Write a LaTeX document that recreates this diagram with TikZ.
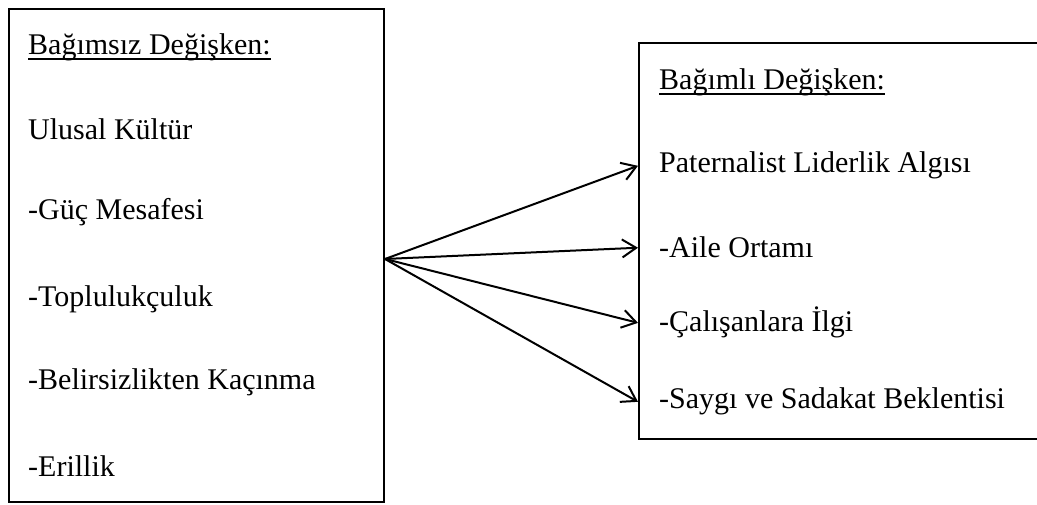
\documentclass[tikz,border=0pt]{standalone}
\usepackage{fontspec}
\setmainfont{Liberation Serif}
\usetikzlibrary{arrows.meta,positioning}
\newcommand{\varhead}[1]{\setbox0\hbox{#1}\rlap{\rule[-5pt]{\wd0}{1.6pt}}\box0}

\begin{document}
\begin{tikzpicture}[x=1pt,y=1pt,>={Straight Barb[length=14pt,width=18pt]},
 frame/.style={draw,line width=2pt,anchor=south west,inner sep=0pt},
 item/.style={anchor=base west,inner sep=0pt,font=\fontsize{30}{36}\selectfont},
 link/.style={->,line width=2pt}]
\useasboundingbox (0,0) rectangle (1037,505);
% bagimsiz degisken
\node[frame,minimum width=375pt,minimum height=493pt] (ind) at (8,2) {};
\node[item] (indhead) at (28,450) {\varhead{Bağımsız Değişken:}};
\node[item] (ulusal) at (28,365) {Ulusal Kültür};
\node[item] (guc) at (28,285) {-Güç Mesafesi};
\node[item] (toplu) at (28,198) {-Toplulukçuluk};
\node[item] (belir) at (28,115) {-Belirsizlikten Kaçınma};
\node[item] (eril) at (28,28) {-Erillik};
\coordinate (src) at (ind.east |- 0,246);
% bagimli degisken
\node[frame,minimum width=410pt,minimum height=396pt] (dep) at (638,65) {};
\node[item] (dephead) at (659,415) {\varhead{Bağımlı Değişken:}};
\node[item] (pater) at (659,332) {Paternalist Liderlik Algısı};
\node[item] (aile) at (659,247) {-Aile Ortamı};
\node[item] (calis) at (659,173) {-Çalışanlara İlgi};
\node[item] (saygi) at (659,96) {-Saygı ve Sadakat Beklentisi};
\foreach \t in {pater,aile,calis,saygi}
 \draw[link] (src) -- (\t.west -| dep.west);
\end{tikzpicture}
\end{document}
